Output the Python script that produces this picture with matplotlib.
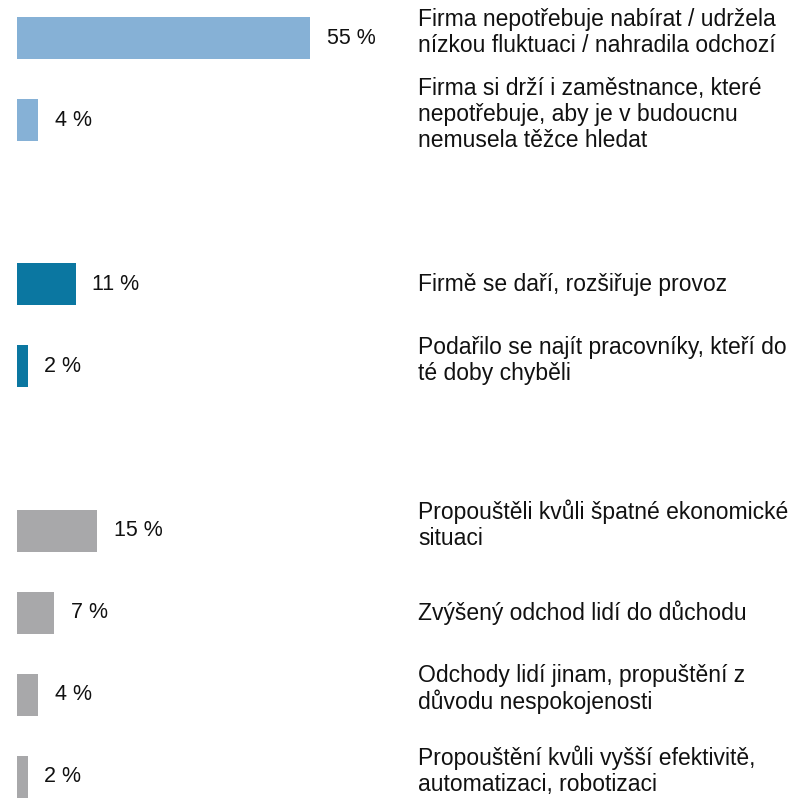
import matplotlib.pyplot as plt
from matplotlib import transforms

# ============================================================
# Data
# ============================================================
values = [55, 4, 11, 2, 15, 7, 4, 2]
groups = ["stable", "stable", "growth", "growth", "cut", "cut", "cut", "cut"]
labels = [
    "Firma nepotřebuje nabírat / udržela\nnízkou fluktuaci / nahradila odchozí",
    "Firma si drží i zaměstnance, které\nnepotřebuje, aby je v budoucnu\nnemusela těžce hledat",
    "Firmě se daří, rozšiřuje provoz",
    "Podařilo se najít pracovníky, kteří do\nté doby chyběli",
    "Propouštěli kvůli špatné ekonomické\nsituaci",
    "Zvýšený odchod lidí do důchodu",
    "Odchody lidí jinam, propuštění z\ndůvodu nespokojenosti",
    "Propouštění kvůli vyšší efektivitě,\nautomatizaci, robotizaci",
]

group_colors = {"stable": "#86b1d6", "growth": "#0b77a1", "cut": "#a8a8aa"}

plt.rcParams["font.family"] = ["Liberation Sans", "DejaVu Sans"]

# slot positions: one empty slot between groups
positions = []
slot = 0
for i, g in enumerate(groups):
    if i > 0 and g != groups[i - 1]:
        slot += 1
    positions.append(slot)
    slot += 1

W, H = 811, 808
fig = plt.figure(figsize=(W / 100, H / 100), dpi=100)
ax = fig.add_axes([17 / W, 0, 533 / W, 1])

colors = [group_colors[g] for g in groups]
ax.barh(positions, values, height=0.51, color=colors)

ax.set_xlim(0, 100)
ax.set_ylim(9.379, -0.463)
ax.axis("off")

for y, v in zip(positions, values):
    ax.annotate(f"{v} %", xy=(v, y), xytext=(12, 0), textcoords="offset points",
                ha="left", va="center", fontsize=15.5, color="#111111")

label_tf = transforms.blended_transform_factory(fig.transFigure, ax.transData)
for y, lab in zip(positions, labels):
    # multi-line labels sit a little above the bar centre
    shift = 0.07 if "\n" in lab else 0.0
    ax.text(418 / W, y - shift, lab, transform=label_tf,
            ha="left", va="center", fontsize=16.5, color="#111111",
            linespacing=1.17)

fig.savefig("out.png", dpi=100)
